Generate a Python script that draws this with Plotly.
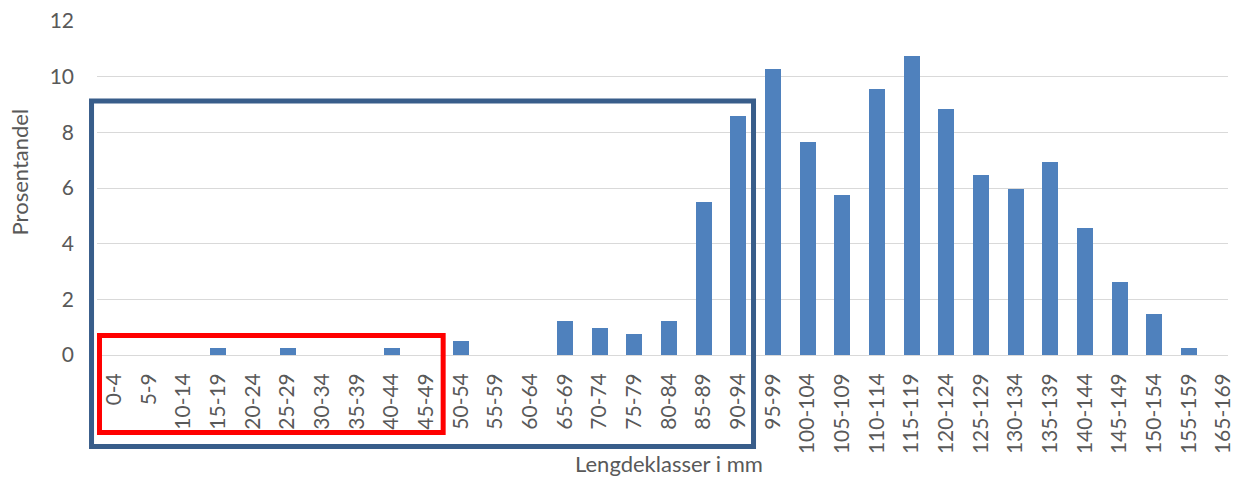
import plotly.graph_objects as go

# ---- data ----
categories = ["0-4", "5-9", "10-14", "15-19", "20-24", "25-29", "30-34", "35-39",
              "40-44", "45-49", "50-54", "55-59", "60-64", "65-69", "70-74", "75-79",
              "80-84", "85-89", "90-94", "95-99", "100-104", "105-109", "110-114",
              "115-119", "120-124", "125-129", "130-134", "135-139", "140-144",
              "145-149", "150-154", "155-159", "165-169"]
percent = [0, 0, 0, 0.25, 0, 0.25, 0, 0, 0.25, 0, 0.5, 0, 0, 1.23, 0.98, 0.74,
           1.23, 5.5, 8.6, 10.27, 7.66, 5.74, 9.55, 10.74, 8.84, 6.46, 5.98, 6.93,
           4.55, 2.64, 1.46, 0.25, 0]
y_ticks = [0, 2, 4, 6, 8, 10, 12]

W, H = 1234, 477
PL, PT, PB = 97, 21, 355          # plot left, top, bottom (px)
STEP = 34.85                      # px per category
n_visible = (W - PL) / STEP

fig = go.Figure()
fig.add_trace(go.Bar(
    x=list(range(len(categories))), y=percent,
    marker=dict(color="#4F81BD", line=dict(width=0)),
    width=0.455, hoverinfo="x+y"))

font = "Lato, 'Open Sans', Arial, sans-serif"
grey = "#595959"

fig.update_layout(
    width=W, height=H,
    margin=dict(l=PL, r=0, t=PT, b=H - PB),
    plot_bgcolor="white", paper_bgcolor="white",
    showlegend=False, bargap=0,
    font=dict(family=font, color=grey, size=21),
    xaxis=dict(
        tickmode="array", tickvals=list(range(len(categories))), ticktext=categories,
        tickangle=-90, range=[-0.5, -0.5 + n_visible],
        showgrid=False, zeroline=False, showline=False, ticks="",
        tickfont=dict(size=21, color=grey), ticklabelstandoff=13,
        ticklabeloverflow="allow"),
    yaxis=dict(
        range=[0, 12], tickvals=y_ticks, showgrid=True, gridcolor="#D9D9D9",
        gridwidth=1.3, zeroline=True, zerolinecolor="#D9D9D9", zerolinewidth=1.3,
        showline=False, ticks="", tickfont=dict(size=21, color=grey),
        ticklabelstandoff=22),
)

def px_x(px):
    return (px - PL) / (W - PL)

def px_y(py):
    return (PB - py) / (PB - PT)

# axis titles
fig.add_annotation(text="Prosentandel", xref="paper", yref="paper",
                   x=px_x(20), y=px_y(172), xanchor="center", yanchor="middle",
                   textangle=-90, showarrow=False,
                   font=dict(size=22, color=grey, family=font))
fig.add_annotation(text="Lengdeklasser i mm", xref="paper", yref="paper",
                   x=px_x(672), y=px_y(463), xanchor="center", yanchor="middle",
                   showarrow=False,
                   font=dict(size=22, color=grey, family=font))

# highlight boxes
fig.add_shape(type="rect", xref="paper", yref="paper",
              x0=px_x(91.5), x1=px_x(757), y0=px_y(446.5), y1=px_y(101),
              line=dict(color="#385D8A", width=5), fillcolor="rgba(0,0,0,0)")
fig.add_shape(type="rect", xref="paper", yref="paper",
              x0=px_x(99.5), x1=px_x(445), y0=px_y(432.5), y1=px_y(335.5),
              line=dict(color="#FF0000", width=5), fillcolor="rgba(0,0,0,0)")

fig.write_html("out.html", config={"displayModeBar": False},
               post_script="document.body.style.margin='0';")
